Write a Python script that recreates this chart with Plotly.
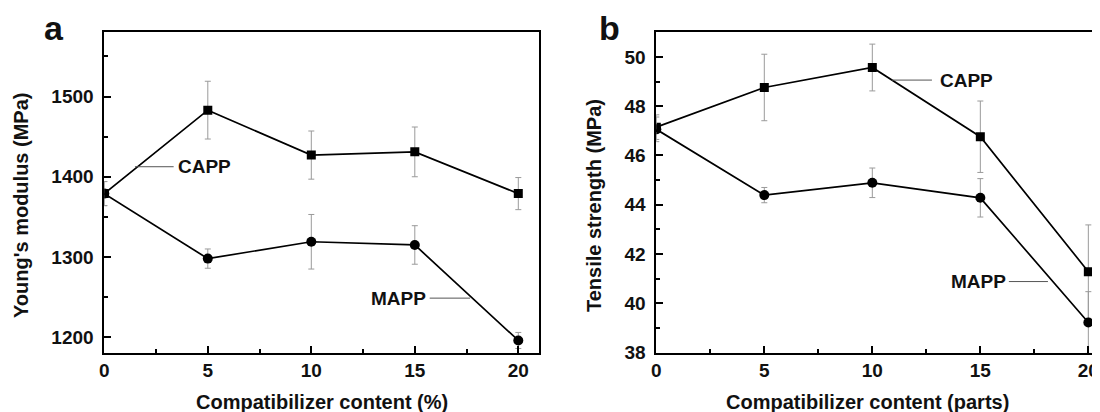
import plotly.graph_objects as go

# ---- data ----
content = [0, 5, 10, 15, 20]

# panel a: Young's modulus (MPa)
mod_capp = [1379, 1483, 1427, 1431, 1379]
mod_capp_err = [15, 36, 30, 31, 20]
mod_mapp = [1379, 1298, 1319, 1315, 1196]
mod_mapp_err = [15, 12, 34, 24, 10]

# panel b: Tensile strength (MPa)
ts_capp = [47.15, 48.76, 49.57, 46.76, 41.28]
ts_capp_err = [0.5, 1.35, 0.95, 1.45, 1.9]
ts_mapp = [47.06, 44.39, 44.89, 44.28, 39.22]
ts_mapp_err = [0.5, 0.31, 0.6, 0.78, 1.25]

x_ticks = [0, 5, 10, 15, 20]
x_tick_text = ["0", "5", "10", "15", "20"]

FONT = "Liberation Sans, Arial, sans-serif"
TXT = "#111111"
ERR = "#9a9a9a"

fig = go.Figure()

def add_series(x, y, err, symbol, size, xa, ya):
    fig.add_trace(go.Scatter(
        x=x, y=y, mode="lines+markers",
        line=dict(color="black", width=1.7),
        marker=dict(symbol=symbol, size=size, color="black"),
        error_y=dict(type="data", array=err, visible=True,
                     color=ERR, thickness=1, width=3),
        xaxis=xa, yaxis=ya, showlegend=False,
    ))

add_series(content, mod_capp, mod_capp_err, "square", 9, "x", "y")
add_series(content, mod_mapp, mod_mapp_err, "circle", 10, "x", "y")
add_series(content, ts_capp, ts_capp_err, "square", 9, "x2", "y2")
add_series(content, ts_mapp, ts_mapp_err, "circle", 10, "x2", "y2")

W, H = 1100, 412
OFF = 8  # page body margin offset of the rendered figure

def px(X):
    return (X - OFF) / W

def py(Y):
    return 1 - (Y - OFF) / H

y_top = py(32.3)
y_bot = py(352.5)

tickfont = dict(family=FONT, size=19, color=TXT, weight="bold")

common_x = dict(
    tickvals=x_ticks, ticktext=x_tick_text,
    ticks="inside", ticklen=7, tickwidth=1.5, tickcolor="black",
    minor=dict(dtick=2.5, tick0=0, ticks="inside", ticklen=4,
               tickwidth=1.5, tickcolor="black"),
    showline=True, linecolor="black", linewidth=1.8,
    showgrid=False, zeroline=False, tickfont=tickfont,
    automargin=False, ticklabelstandoff=0,
)
common_y = dict(
    ticks="inside", ticklen=7, tickwidth=1.5, tickcolor="black",
    showline=True, linecolor="black", linewidth=1.8,
    showgrid=False, zeroline=False, tickfont=tickfont,
    automargin=False, ticklabelstandoff=5, mirror=True,
)

fig.update_layout(
    width=W, height=H,
    margin=dict(l=0, r=0, t=0, b=0),
    paper_bgcolor="white", plot_bgcolor="white",
    font=dict(family=FONT, color=TXT),
    xaxis=dict(domain=[px(104.3), px(539)], range=[0, 21],
               anchor="y", mirror=True, **common_x),
    yaxis=dict(domain=[y_bot, y_top], range=[1181, 1580], anchor="x",
               tickvals=[1200, 1300, 1400, 1500],
               minor=dict(dtick=50, tick0=1200, ticks="inside", ticklen=4,
                          tickwidth=1.5, tickcolor="black"),
               **common_y),
    xaxis2=dict(domain=[px(656.3), 1.0], range=[0, 20.91],
                anchor="y2", mirror=True, **common_x),
    yaxis2=dict(domain=[y_bot, y_top], range=[38, 51], anchor="x2",
                tickvals=[38, 40, 42, 44, 46, 48, 50],
                minor=dict(dtick=1, tick0=38, ticks="inside", ticklen=4,
                           tickwidth=1.5, tickcolor="black"),
                **common_y),
)

# series labels and leader lines
labels = [
    # text, x, y, leader x0, x1, axes
    ("CAPP", 4.82, 1412.5, 1.48, 3.35, "x", "y"),
    ("MAPP", 14.19, 1248.75, 15.72, 17.67, "x", "y"),
    ("CAPP", 14.34, 49.06, 10.9, 12.76, "x2", "y2"),
    ("MAPP", 14.9, 40.88, 16.32, 18.13, "x2", "y2"),
]
for text, tx, ty, lx0, lx1, xa, ya in labels:
    fig.add_annotation(x=tx, y=ty, xref=xa, yref=ya, text=text,
                       showarrow=False, xanchor="center", yanchor="middle",
                       font=dict(family=FONT, size=19, color=TXT, weight="bold"))
    fig.add_shape(type="line", xref=xa, yref=ya, x0=lx0, x1=lx1,
                  y0=ty, y1=ty, line=dict(color="#555555", width=1))

def paper_text(text, X, Y, size, angle=0):
    fig.add_annotation(x=px(X), y=py(Y), xref="paper", yref="paper",
                       showarrow=False, textangle=angle, text=text,
                       xanchor="center", yanchor="middle",
                       font=dict(family=FONT, size=size, color=TXT, weight="bold"))

# axis titles and panel letters
paper_text("Compatibilizer content (%)", 321.5, 402, 20)
paper_text("Compatibilizer content (parts)", 867, 402, 20)
paper_text("Young's modulus (MPa)", 21, 205, 20, -90)
paper_text("Tensile strength (MPa)", 594, 206, 20, -90)
paper_text("a", 54, 27.6, 34)
paper_text("b", 609, 27.6, 34)

fig.write_html("out.html")
